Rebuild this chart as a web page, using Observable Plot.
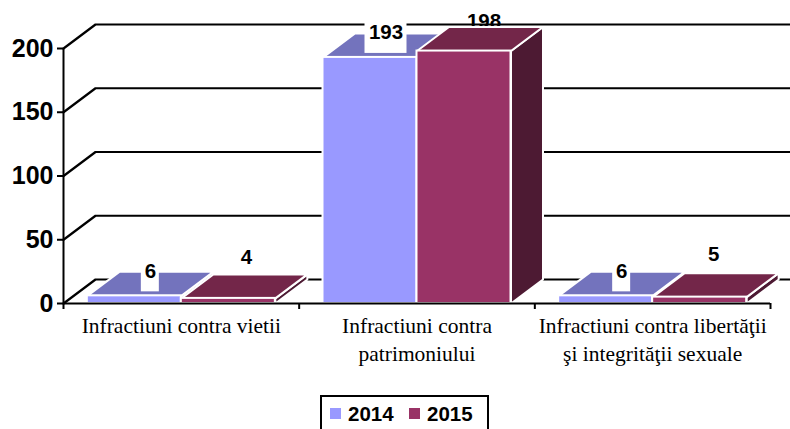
<!DOCTYPE html>
<html>
<head>
<meta charset="utf-8">
<script src="https://cdn.jsdelivr.net/npm/d3@7"></script>
<script src="https://cdn.jsdelivr.net/npm/@observablehq/plot@0.6"></script>
<style>
html,body{margin:0;padding:0;background:#fff;overflow:hidden;width:790px;height:429px}
#legend{position:absolute;left:320px;top:395px;width:165px;height:60px;border:2px solid #000;font:bold 20.5px "Liberation Sans",sans-serif;color:#000}
#legend i{position:absolute;top:11px;width:11px;height:11px}
#legend span{position:absolute;top:5px;line-height:24px}
</style>
</head>
<body>
<div id="chart"></div>
<div id="legend">
  <i style="left:8px;background:#9999ff"></i><span style="left:26px">2014</span>
  <i style="left:87px;background:#993366"></i><span style="left:105px">2015</span>
</div>
<script>
const categories = ["Infractiuni contra vietii", "Infractiuni contra\npatrimoniului", "Infractiuni contra libertăţii\nşi integrităţii sexuale"];
const values2014 = [6, 193, 6];
const values2015 = [4, 198, 5];
const yTicks = [0, 50, 100, 150, 200];

// conversion of pixel sizes into data units (1 category = 235.67px, 200 units = 255px)
const pxX = 1 / 235.67, pxY = 200 / 255;
const depthX = 32 * pxX, depthY = 24 * pxY, barW = 94 * pxX;

const gridMarks = yTicks.map(v => Plot.line(
  [{x: 0, y: v}, {x: depthX, y: v + depthY}, {x: 3 + depthX, y: v + depthY}],
  {x: "x", y: "y", stroke: "#000", strokeWidth: 2.2}));

function barMarks(i, value, x0, front, top, side) {
  const x1 = x0 + barW;
  const t = [[x0, value], [x0 + depthX, value + depthY], [x1 + depthX, value + depthY], [x1, value], [x0, value]];
  const s = [[x1, 0], [x1 + depthX, depthY], [x1 + depthX, value + depthY], [x1, value], [x1, 0]];
  const poly = (pts, fill) => Plot.line(pts.map(([x, y]) => ({x, y})), {x: "x", y: "y", fill, stroke: "#fff", strokeWidth: 2});
  return [
    poly(s, side),
    poly(t, top),
    Plot.rect([{x1: x0, x2: x1, y1: 0, y2: value}], {x1: "x1", x2: "x2", y1: "y1", y2: "y2", fill: front, stroke: "#fff", strokeWidth: 2})
  ];
}

const bars2014 = values2014.flatMap((v, i) => barMarks(i, v, i + 0.5 - barW, "#9999ff", "#7373bd", "#4c4c80"));
const bars2015 = values2015.flatMap((v, i) => barMarks(i, v, i + 0.5, "#993366", "#732649", "#4d1a33"));

const labelFont = {fontFamily: "Liberation Sans", fontWeight: "bold", fontSize: 20.5, fill: "#000"};

// label boxes of the 2014 series
const boxes2014 = values2014.map((v, i) => {
  const cx = i + 0.5 - barW / 2 + 16 * pxX;
  const halfW = (v > 99 ? 21 : 9) * pxX;
  return Plot.rect([{x1: cx - halfW, x2: cx + halfW, y1: v + 4 * pxY, y2: v + 34 * pxY}],
    {x1: "x1", x2: "x2", y1: "y1", y2: "y2", fill: "#fff"});
});
const labels2014 = values2014.map((v, i) => Plot.text([v], {
  x: () => i + 0.5 - barW / 2 + 16 * pxX, y: d => d, text: d => String(d),
  dy: v > 99 ? -25 : -24, ...labelFont}));
const offsets2015 = [[18, -41], [20, -30], [14, -43]];
const labels2015 = values2015.map((v, i) => Plot.text([v], {
  x: () => i + 0.5 + barW / 2 + offsets2015[i][0] * pxX, y: d => d, text: d => String(d),
  dy: offsets2015[i][1], ...labelFont}));

const chart = Plot.plot({
  width: 790, height: 390,
  marginLeft: 63, marginRight: 20, marginTop: 48, marginBottom: 87,
  x: {type: "linear", domain: [0, 3]},
  y: {domain: [0, 200]},
  style: {background: "#fff", fontFamily: "Liberation Sans"},
  marks: [
    ...gridMarks,
    ...labels2015,
    ...bars2014,
    ...boxes2014,
    ...labels2014,
    ...bars2015,
    Plot.ruleX([0], {y1: 0, y2: 200, stroke: "#000", strokeWidth: 2}),
    Plot.ruleY([0], {x1: 0, x2: 3, stroke: "#000", strokeWidth: 2}),
    Plot.axisY({ticks: yTicks, tickSize: 6, tickPadding: 4, label: null, fontSize: 25, fontWeight: "bold", strokeWidth: 2, fill: "#000", stroke: "#000"}),
    Plot.axisX({ticks: [0, 1, 2, 3], tickSize: 6, tickFormat: () => "", label: null, strokeWidth: 2, stroke: "#000"}),
    Plot.text(categories, {
      x: (d, i) => i + 0.5, y: () => 0, text: d => d, dy: 10,
      lineAnchor: "top", lineHeight: 1.3, fontFamily: "Liberation Serif", fontSize: 21.5, fill: "#000"
    })
  ]
});
document.getElementById("chart").appendChild(chart);
</script>
</body>
</html>
